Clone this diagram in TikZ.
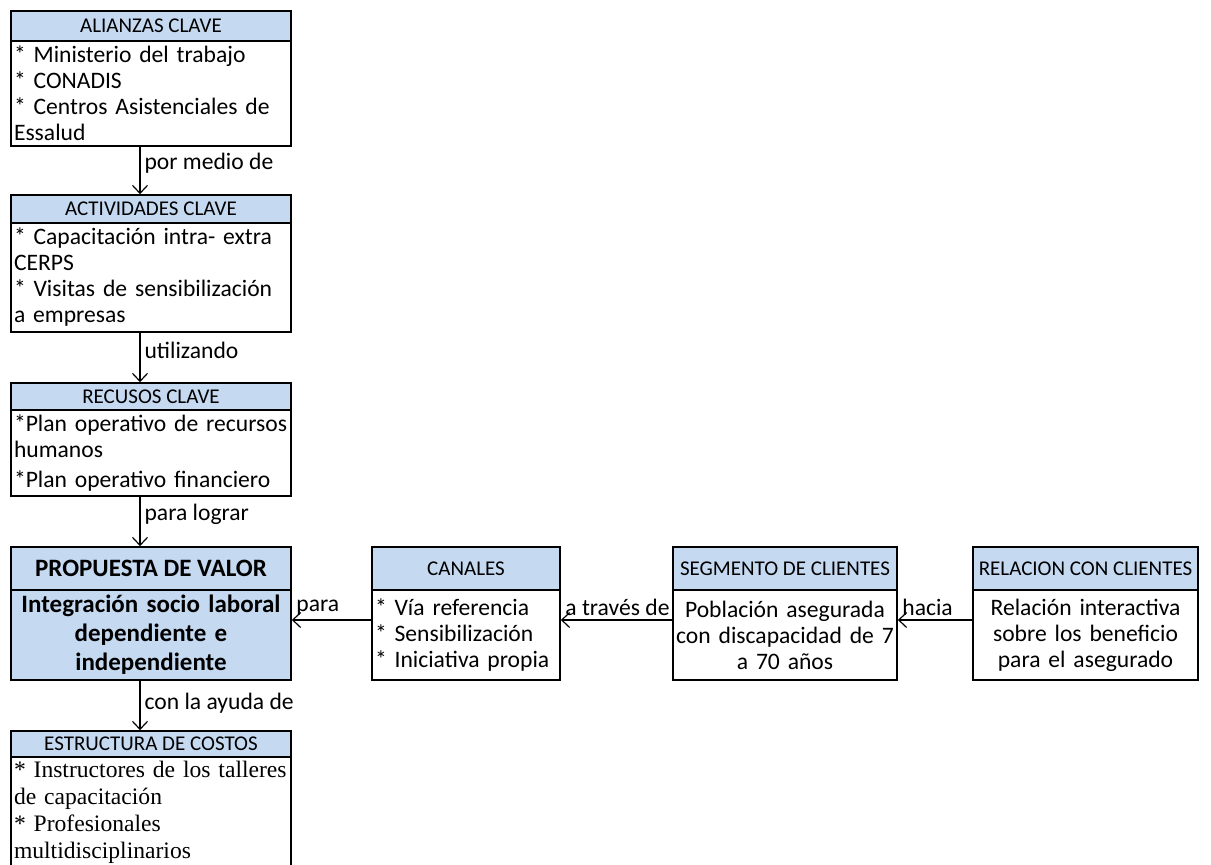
\documentclass[tikz,border=0pt]{standalone}
\usepackage{fontspec}
\setmainfont{Carlito}
\newfontfamily\costosfont{Liberation Serif}
\usepackage{tikz}
\usetikzlibrary{arrows.meta}
\definecolor{cabecera}{HTML}{C5D9F1}

\begin{document}
\begin{tikzpicture}[x=0.5pt,y=-0.5pt,
 cab/.style={rectangle,draw,line width=0.8pt,fill=cabecera,inner sep=0pt,font=\fontsize{10.5}{12}\selectfont},
 cuerpo/.style={rectangle,draw,line width=0.8pt,inner xsep=1.5pt,inner ysep=0pt,font=\fontsize{11.8}{13}\selectfont},
 flecha/.style={-{Straight Barb[length=4pt,width=7.5pt]},line width=0.6pt},
 etiq/.style={font=\fontsize{11.8}{13}\selectfont,inner sep=2pt}]
\useasboundingbox (0,0) rectangle (1211,864);

% columna izquierda
\node [cab,minimum width=140pt,minimum height=15pt] (alianzas) at (151,26) {ALIANZAS CLAVE};
\node [cuerpo,text width=137pt,align=left,minimum height=52.5pt] (alianzasb) at (151,93.5)
 {{*} Ministerio del trabajo\\ {*} CONADIS\\ {*} Centros Asistenciales de\\ Essalud};

\node [cab,minimum width=140pt,minimum height=14pt] (actividades) at (151,209) {ACTIVIDADES CLAVE};
\node [cuerpo,text width=137pt,align=left,minimum height=54.5pt] (actividadesb) at (151,277.5)
 {{*} Capacitación intra- extra\\ CERPS\\ {*} Visitas de sensibilización\\ a empresas};

\node [cab,minimum width=140pt,minimum height=13.5pt] (recursos) at (151,396.5) {RECUSOS CLAVE};
\node [cuerpo,text width=137pt,align=left,minimum height=43pt] (recursosb) at (151,453)
 {{*}Plan operativo de recursos\\ humanos\\[2pt] {*}Plan operativo financiero};

\node [cab,minimum width=140pt,minimum height=21.5pt,font=\fontsize{12.5}{14}\selectfont\bfseries] (propuesta) at (151,568.5) {PROPUESTA DE VALOR};
\node [cuerpo,fill=cabecera,text width=137pt,align=center,minimum height=45pt,font=\fontsize{12.5}{14.5}\selectfont\bfseries] (propuestab) at (151,635)
 {Integración socio laboral\\ dependiente e\\ independiente};

\node [cab,minimum width=140pt,minimum height=13pt] (costos) at (151,744) {ESTRUCTURA DE COSTOS};
\node [cuerpo,text width=137pt,align=left,minimum height=55.5pt,font=\costosfont\fontsize{11.8}{13.5}\selectfont] (costosb) at (151,812.5)
 {{*} Instructores de los talleres\\ de capacitación\\ {*} Profesionales\\ multidisciplinarios};

% fila derecha
\node [cab,minimum width=94pt,minimum height=21.5pt] (canales) at (466,568.5) {CANALES};
\node [cuerpo,text width=91pt,align=left,minimum height=45pt] (canalesb) at (466,635)
 {{*} Vía referencia\\ {*} Sensibilización\\ {*} Iniciativa propia};

\node [cab,minimum width=112pt,minimum height=21.5pt] (segmento) at (785,568.5) {SEGMENTO DE CLIENTES};
\node [cuerpo,text width=109pt,align=center,minimum height=45pt] (segmentob) at (785,635)
 {Población asegurada\\ con discapacidad de 7\\ a 70 años};

\node [cab,minimum width=112.5pt,minimum height=21.5pt] (relacion) at (1085.5,568.5) {RELACION CON CLIENTES};
\node [cuerpo,text width=109.5pt,align=center,minimum height=45pt] (relacionb) at (1085.5,635)
 {Relación interactiva\\ sobre los beneficio\\ para el asegurado};

% flechas
\draw [flecha] ([xshift=-5.5pt]alianzasb.south) -- node[etiq,right,pos=0.35] {por medio de} ([xshift=-5.5pt]actividades.north);
\draw [flecha] ([xshift=-5.5pt]actividadesb.south) -- node[etiq,right,pos=0.35] {utilizando} ([xshift=-5.5pt]recursos.north);
\draw [flecha] ([xshift=-5.5pt]recursosb.south) -- node[etiq,right,pos=0.35] {para lograr} ([xshift=-5.5pt]propuesta.north);
\draw [flecha] ([xshift=-5.5pt]propuestab.south) -- node[etiq,right,pos=0.45] {con la ayuda de} ([xshift=-5.5pt]costos.north);
\draw [flecha] ([yshift=7.5pt]canalesb.west) -- ([yshift=7.5pt]propuestab.east) node[etiq,anchor=south west] {para};
\draw [flecha] ([yshift=7.5pt]segmentob.west) -- ([yshift=7.5pt]canalesb.east) node[etiq,anchor=south west] {a través de};
\draw [flecha] ([yshift=7.5pt]relacionb.west) -- ([yshift=7.5pt]segmentob.east) node[etiq,anchor=south west] {hacia};
\end{tikzpicture}
\end{document}
